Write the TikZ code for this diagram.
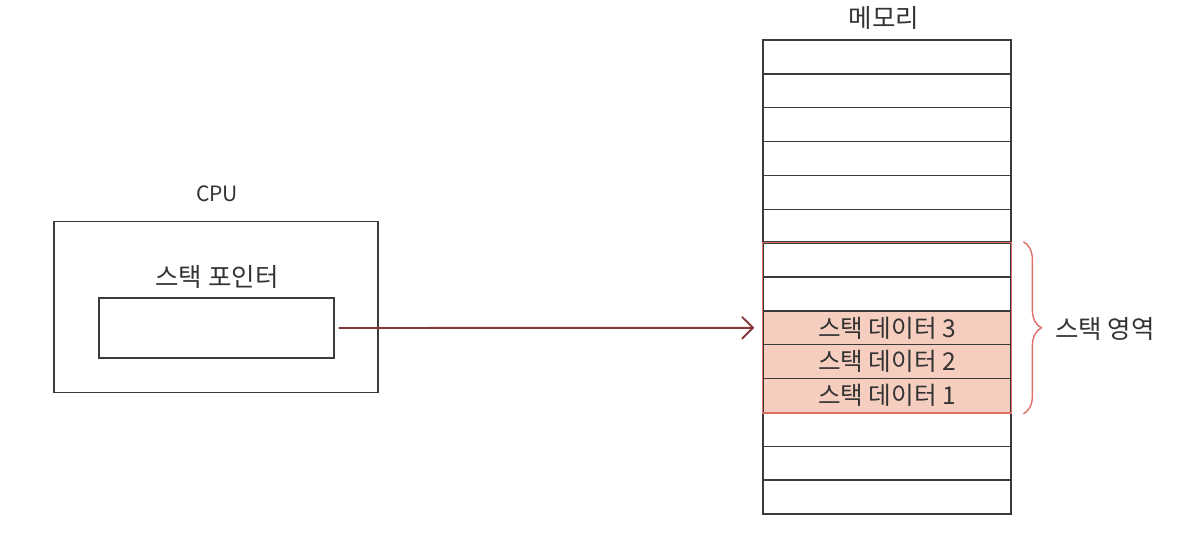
\documentclass[tikz,border=0pt]{standalone}
\usepackage{fontspec}
\newfontfamily\krfont{Noto Sans CJK KR}
\usetikzlibrary{arrows.meta, positioning, calc, fit, decorations.pathreplacing}
\definecolor{cline}{HTML}{3A3A3A}
\definecolor{ctext}{HTML}{333333}
\definecolor{cstack}{HTML}{DE6F66}
\definecolor{cfill}{HTML}{F6CEBF}
\definecolor{carrow}{HTML}{86393A}
\tikzset{
  every picture/.style={font=\krfont, line width=0.8pt},
  cell/.style={draw=cline, minimum width=4.96cm, minimum height=0.677cm, inner sep=0pt, text=ctext, font=\krfont\fontsize{14}{16}\selectfont},
  data/.style={cell, fill=cfill},
  label/.style={text=ctext, font=\krfont\fontsize{14.5}{17}\selectfont},
  arrow/.style={-{Straight Barb[length=2.2mm, width=4.4mm]}, draw=carrow, line width=1.1pt},
}

\begin{document}
\begin{tikzpicture}[x=0.02cm, y=-0.02cm]
  \useasboundingbox (0,0) rectangle (1201,535);
  % CPU
  \node[label, font=\krfont\fontsize{12}{14}\selectfont] (cpulbl) at (217,194) {CPU};
  \node[draw=cline, minimum width=6.48cm, minimum height=3.42cm, inner sep=0pt] (cpu) at (216,307) {};
  \node[label] (splbl) at (217,277) {스택 포인터};
  \node[draw=cline, minimum width=4.7cm, minimum height=1.2cm, inner sep=0pt] (sp) at (216.5,328) {};
  % memory
  \node[label] (memlbl) at (884,18) {메모리};
  \foreach \i/\txt/\sty in {1/{}/cell, 2/{}/cell, 3/{}/cell, 4/{}/cell, 5/{}/cell, 6/{}/cell, 7/{}/cell, 8/{}/cell,
      9/스택 데이터 3/data, 10/스택 데이터 2/data, 11/스택 데이터 1/data, 12/{}/cell, 13/{}/cell, 14/{}/cell}
    \node[\sty] (m\i) at (887,{40+33.86*\i-16.93}) {\txt};
  % stack area
  \node[fit=(m7)(m11), draw=cstack, inner sep=0pt] (stack) {};
  \draw[cline] (stack.north west) -- (stack.north east);
  \draw[cstack, decorate, decoration={brace, amplitude=0.36cm}] ($(stack.north east)+(11,0)$) -- ($(stack.south east)+(11,0)$);
  \node[label] (stacklbl) at (1105,329) {스택 영역};
  \draw[arrow, shorten <=0.08cm, shorten >=0.16cm] (sp.east) -- (m9.west);
\end{tikzpicture}
\end{document}
